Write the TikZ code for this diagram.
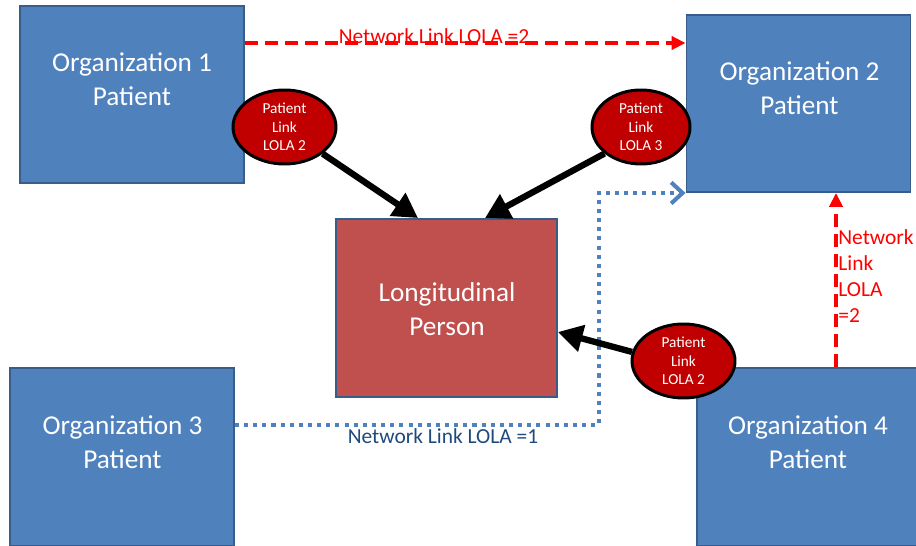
\documentclass[tikz,border=0pt]{standalone}
\usepackage{fontspec}
\setmainfont{Carlito}
\usepackage{tikz}
\usetikzlibrary{shapes.geometric,arrows.meta,positioning,calc}

\definecolor{orgblue}{HTML}{4F81BD}
\definecolor{orgedge}{HTML}{385D8A}
\definecolor{persred}{HTML}{C0504D}
\definecolor{linkred}{HTML}{C00000}
\definecolor{netblue}{HTML}{1F497D}

\begin{document}
\begin{tikzpicture}[
  x=0.02cm, y=-0.02cm,
  orgbox/.style={rectangle, draw=orgedge, line width=1.1pt, fill=orgblue,
                 minimum width=4.48cm, minimum height=3.54cm, inner sep=0pt},
  boxtxt/.style={text=white, align=center, font=\fontsize{15.5}{19.3}\selectfont},
  patlink/.style={ellipse, draw=black, line width=1.7pt, fill=linkred,
                  minimum width=2.06cm, minimum height=1.48cm, inner sep=0pt},
  linktxt/.style={text=white, align=center, font=\fontsize{8.7}{10.6}\selectfont},
  bigarr/.style={-{Triangle[length=14pt,width=15pt]}, line width=3.6pt, black},
  redlink/.style={-{Triangle[length=8pt,width=7.5pt]}, line width=2.4pt, red,
                  dash pattern=on 7.4pt off 4pt},
  bluelink/.style={-{Straight Barb[length=6.5pt,width=12pt]}, line width=2.3pt, orgblue,
                   dash pattern=on 2.3pt off 2.9pt},
  netlbl/.style={font=\fontsize{12.2}{14.8}\selectfont, inner sep=0pt}
]
\useasboundingbox (0,0) rectangle (916,546);

% organisations and the person
\node[orgbox] (org1) at (132,94.5) {};
\node[orgbox] (org2) at (798.5,103.5) {};
\node[orgbox, minimum height=3.56cm] (org3) at (122,457) {};
\node[orgbox, minimum height=3.56cm] (org4) at (809,457) {};
\node[orgbox, fill=persred, minimum width=4.42cm, minimum height=3.56cm] (person) at (446.5,308) {};

\node[boxtxt] (org1txt) at (132,79) {Organization 1\\Patient};
\node[boxtxt] (org2txt) at (799.5,88) {Organization 2\\Patient};
\node[boxtxt] (org3txt) at (122.5,442) {Organization 3\\Patient};
\node[boxtxt] (org4txt) at (808,442) {Organization 4\\Patient};
\node[boxtxt] (persontxt) at (447,309) {Longitudinal\\Person};

% network links
\coordinate (nl2a) at ([yshift=1.03cm]org1.east);
\draw[redlink] (nl2a) -- (nl2a -| org2.west);
\node[netlbl, text=red] (nl2alabel) at (434,36) {Network Link LOLA =2};

\coordinate (nl2b) at ([xshift=0.54cm]org4.north);
\draw[redlink] (nl2b) -- (nl2b |- org2.south);
\node[netlbl, text=red, align=left, anchor=north west] (nl2blabel) at (838,229)
  {Network\\Link\\LOLA\\=2};

\coordinate (nl1a) at ([yshift=0.64cm]org3.east);
\coordinate (nl1c) at ([xshift=-1.74cm]org2.south west);
\draw[bluelink] (nl1a) -| (nl1c) -- (org2.south west);
\node[netlbl, text=netblue] (nl1label) at (443,436) {Network Link LOLA =1};

% patient links
\node[patlink] (pl1) at (284.5,127) {};
\node[patlink, minimum width=1.96cm] (pl2) at (641,127) {};
\node[patlink] (pl3) at (683.5,361) {};
\node[linktxt] (pl1txt) at (pl1) {Patient\\Link\\LOLA 2};
\node[linktxt] (pl2txt) at (pl2) {Patient\\Link\\LOLA 3};
\node[linktxt] (pl3txt) at (pl3) {Patient\\Link\\LOLA 2};

\draw[bigarr] (pl1.-35) -- ([xshift=-0.57cm]person.north);
\draw[bigarr] (pl2.-144) -- ([xshift=0.77cm]person.north);
\draw[bigarr] (pl3.170) -- ([yshift=-0.48cm]person.east);
\end{tikzpicture}
\end{document}
